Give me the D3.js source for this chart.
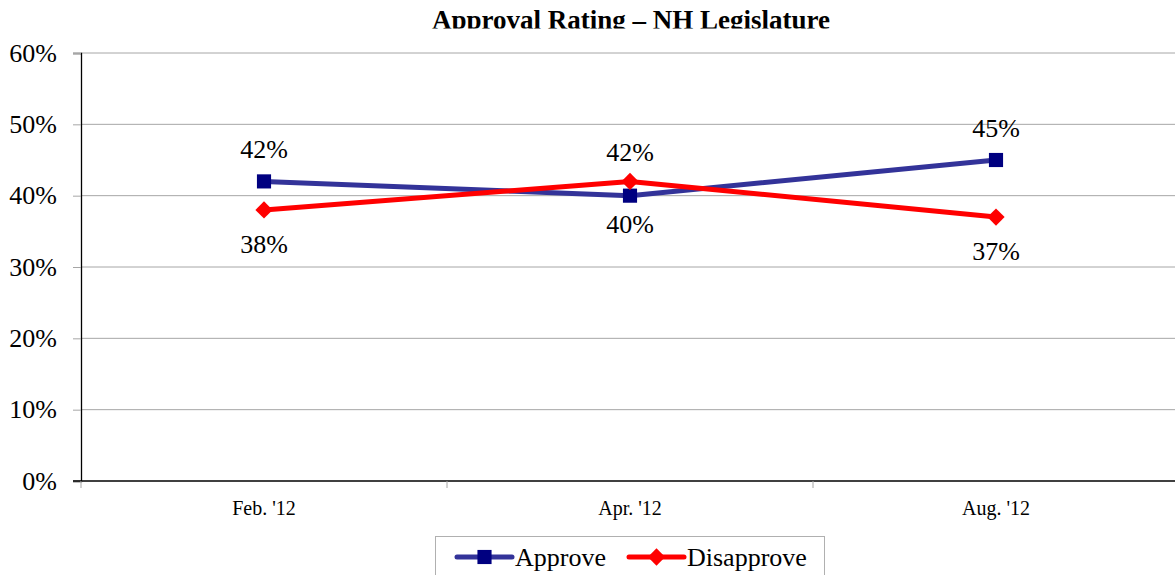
<!DOCTYPE html>
<html>
<head>
<meta charset="utf-8">
<script src="https://cdn.jsdelivr.net/npm/d3@7"></script>
<style>
  body { margin: 0; background: #fff; }
  svg { display: block; }
  svg text { font-family: "Liberation Serif", "Times New Roman", serif; }
</style>
</head>
<body>
<svg id="chart" width="1175" height="575"></svg>
<script>
// chart data
var categories = ["Feb. '12", "Apr. '12", "Aug. '12"];
var approve = [42, 40, 45];
var disapprove = [38, 42, 37];
var yTicks = [0, 10, 20, 30, 40, 50, 60];

var svg = d3.select('#chart');
var plotLeft = 81, plotRight = 1179, plotTop = 53, plotBottom = 481;

var x = d3.scaleBand().domain(categories).range([plotLeft, plotRight]);
var y = d3.scaleLinear().domain([0, 60]).range([plotBottom, plotTop]);
var cx = function(d, i) { return x(categories[i]) + x.bandwidth() / 2; };

// title (cut off at the bottom as in the original)
svg.append('clipPath').attr('id', 'titleClip')
	.append('rect').attr('x', 0).attr('y', 0).attr('width', 1175).attr('height', 28.5);
svg.append('text')
	.attr('clip-path', 'url(#titleClip)')
	.attr('x', 631).attr('y', 28.5)
	.attr('text-anchor', 'middle')
	.style('font-weight', 'bold').style('font-size', '27px')
	.text('Approval Rating – NH Legislature');

// gridlines
svg.append('g').selectAll('line').data(yTicks.filter(function(d) { return d > 0; }))
	.join('line')
	.attr('x1', plotLeft).attr('x2', plotRight)
	.attr('y1', function(d) { return y(d); }).attr('y2', function(d) { return y(d); })
	.attr('stroke', '#a6a6a6').attr('stroke-width', 1);

// y axis
var yAxis = svg.append('g').attr('transform', 'translate(' + plotLeft + ',0)')
	.call(d3.axisLeft(y).tickValues(yTicks).tickSize(8).tickPadding(16)
		.tickFormat(function(d) { return d + '%'; }));
yAxis.attr('font-family', null);
yAxis.select('.domain').attr('stroke', '#000').attr('stroke-width', 1.3);
yAxis.selectAll('.tick line').attr('stroke', '#a6a6a6');
yAxis.selectAll('.tick text').style('font-size', '26px').attr('fill', '#000');

// x axis
var xAxis = svg.append('g').attr('transform', 'translate(0,' + plotBottom + ')');
xAxis.append('line').attr('x1', plotLeft - 8).attr('x2', plotRight)
	.attr('stroke', '#000').attr('stroke-width', 1.6);
xAxis.selectAll('.sep').data(d3.range(categories.length + 1)).join('line')
	.attr('class', 'sep')
	.attr('x1', function(i) { return plotLeft + i * x.bandwidth(); })
	.attr('x2', function(i) { return plotLeft + i * x.bandwidth(); })
	.attr('y1', 0).attr('y2', 7)
	.attr('stroke', '#a6a6a6');
xAxis.selectAll('.lbl').data(categories).join('text')
	.attr('class', 'lbl')
	.attr('x', function(d) { return x(d) + x.bandwidth() / 2; })
	.attr('y', 34)
	.attr('text-anchor', 'middle')
	.style('font-size', '20px')
	.text(function(d) { return d; });

var line = d3.line().x(cx).y(function(d) { return y(d); });

var series = [
	{name: 'Approve', values: approve, stroke: '#333399', fill: '#000080', marker: 'square'},
	{name: 'Disapprove', values: disapprove, stroke: '#ff0000', fill: '#ff0000', marker: 'diamond'}
];

var sym = {
	square: d3.symbol().type(d3.symbolSquare).size(200),
	diamond: d3.symbol().type(d3.symbolDiamond2).size(190)
};

series.forEach(function(s) {
	svg.append('path').datum(s.values)
		.attr('d', line)
		.attr('fill', 'none').attr('stroke', s.stroke).attr('stroke-width', 5)
		.attr('stroke-linejoin', 'round');
	svg.append('g').selectAll('path').data(s.values).join('path')
		.attr('d', sym[s.marker])
		.attr('transform', function(d, i) { return 'translate(' + cx(d, i) + ',' + y(d) + ')'; })
		.attr('fill', s.fill);
});

// data labels: the higher value gets its label above the point
categories.forEach(function(c, i) {
	var a = approve[i], b = disapprove[i];
	var hi = Math.max(a, b), lo = Math.min(a, b);
	var close = hi - lo < 3;
	var px = x(c) + x.bandwidth() / 2;
	svg.append('text').attr('x', px).attr('y', y(hi) - (close ? 20 : 23))
		.attr('text-anchor', 'middle').style('font-size', '26px').text(hi + '%');
	svg.append('text').attr('x', px).attr('y', y(lo) + (close ? 37 : 43))
		.attr('text-anchor', 'middle').style('font-size', '26px').text(lo + '%');
});

// legend
var lg = svg.append('g');
lg.append('rect').attr('x', 435.5).attr('y', 536.5).attr('width', 389).attr('height', 50)
	.attr('fill', '#fff').attr('stroke', '#b0b0b0');
var legendX = [457, 629];
series.forEach(function(s, i) {
	var g = lg.append('g').attr('transform', 'translate(' + legendX[i] + ',557)');
	g.append('line').attr('x1', 0).attr('x2', 55).attr('y1', 0).attr('y2', 0)
		.attr('stroke', s.stroke).attr('stroke-width', 5).attr('stroke-linecap', 'round');
	g.append('path').attr('d', sym[s.marker]).attr('transform', 'translate(27.5,0)').attr('fill', s.fill);
	g.append('text').attr('x', 58).attr('y', 9).style('font-size', '26px').text(s.name);
});
</script>
</body>
</html>
